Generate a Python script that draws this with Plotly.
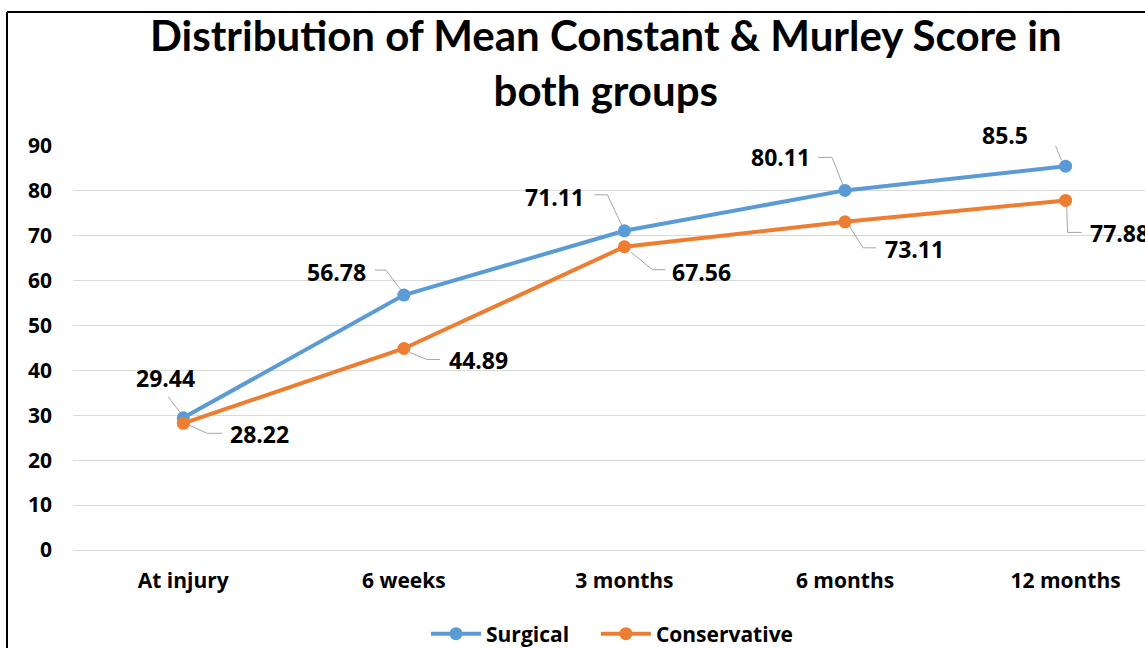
import plotly.graph_objects as go

categories = ["At injury", "6 weeks", "3 months", "6 months", "12 months"]
surgical = [29.44, 56.78, 71.11, 80.11, 85.5]
conservative = [28.22, 44.89, 67.56, 73.11, 77.88]
y_ticks = [0, 10, 20, 30, 40, 50, 60, 70, 80, 90]

BLUE = "#5B9BD5"
ORANGE = "#ED7D31"
GRID = "#D9D9D9"
LEADER = "#A6A6A6"
FONT = "Open Sans"

W, H = 1145, 648
ML, MR, MT, MB = 73, 0, 146, 98
XR = [-0.5, 4.36]
YR = [0, 90]
pw = (W - ML - MR) / (XR[1] - XR[0])
ph = (H - MT - MB) / (YR[1] - YR[0])

def px_x(p):
    return (p - ML) / (W - ML - MR)

def px_y(p):
    return (H - MB - p) / (H - MT - MB)

# label anchors (px, screen: +right, +down): surgical right edge, conservative left edge
surg_lab = [(14, -40), (-36, -23), (-38, -34), (-33, -33), (-36, -31)]
surg_lead = [
    [(-15, -21), (-3, -5)],
    [(-29, -25), (-18, -25), (-2, -4)],
    [(-30, -36), (-17, -36), (-2, -4)],
    [(-27, -33), (-13, -33), (-2, -5)],
    [(-27, -32), (-15, -32), (-4, -6)],
]
cons_lab = [(45, 11), (43, 12), (46, 25), (38, 27), (22, 33)]
cons_lead = [
    [(4, 1), (24, 10), (39, 10)],
    [(6, 4), (23, 11), (36, 11)],
    [(6, 5), (28, 23), (41, 23)],
    [(3, 2), (18, 26), (31, 26)],
    [(1, 4), (2, 32), (16, 32)],
]

fig = go.Figure()

def add_leaders(vals, leads):
    for i, (v, pts) in enumerate(zip(vals, leads)):
        fig.add_trace(go.Scatter(
            x=[i + dx / pw for dx, dy in pts],
            y=[v - dy / ph for dx, dy in pts],
            mode="lines", line=dict(color=LEADER, width=1),
            hoverinfo="skip", showlegend=False))

add_leaders(surgical, surg_lead)
add_leaders(conservative, cons_lead)

xs = list(range(len(categories)))
fig.add_trace(go.Scatter(x=xs, y=surgical, name="<b>Surgical</b>&nbsp;&nbsp;&nbsp;&nbsp;",
                         mode="lines+markers",
                         line=dict(color=BLUE, width=4),
                         marker=dict(size=13, color=BLUE)))
fig.add_trace(go.Scatter(x=xs, y=conservative, name="<b>Conservative</b>", mode="lines+markers",
                         line=dict(color=ORANGE, width=4),
                         marker=dict(size=13, color=ORANGE)))

for vals, offs, anchor in ((surgical, surg_lab, "right"), (conservative, cons_lab, "left")):
    for i, (v, (dx, dy)) in enumerate(zip(vals, offs)):
        fig.add_annotation(x=i, y=v, text=f"<b>{v:g}</b>", showarrow=False,
                           xanchor=anchor, yanchor="middle",
                           xshift=dx, yshift=-dy,
                           font=dict(family=FONT, size=23, color="#000000"))

# chart title
fig.add_annotation(xref="paper", yref="paper", x=px_x(606), y=px_y(8),
                   xanchor="center", yanchor="top", showarrow=False,
                   text="<b>Distribution of Mean Constant & Murley Score in<br>both groups</b>",
                   font=dict(family="Lato", size=42, color="#000000"))

# outer border (cropped chart frame)
bx = px_x(7)
by = px_y(12)
fig.add_shape(type="line", xref="paper", yref="paper", x0=bx, x1=bx, y0=-0.4, y1=by,
              line=dict(color="#000000", width=2))
fig.add_shape(type="line", xref="paper", yref="paper", x0=bx, x1=1.05, y0=by, y1=by,
              line=dict(color="#000000", width=2))

fig.update_layout(
    width=W, height=H,
    margin=dict(l=ML, r=MR, t=MT, b=MB, autoexpand=False),
    paper_bgcolor="#FFFFFF", plot_bgcolor="#FFFFFF",
    xaxis=dict(range=XR, tickvals=xs, ticktext=[f"<b>{c}</b>" for c in categories],
               showgrid=False, zeroline=False, showline=False, ticks="",
               automargin=False,
               tickfont=dict(family=FONT, size=21, color="#000000"),
               ticklabelstandoff=16),
    yaxis=dict(range=YR, tickvals=y_ticks, ticktext=[f"<b>{t}</b>" for t in y_ticks],
               showgrid=True, gridcolor=GRID, gridwidth=1,
               zeroline=True, zerolinecolor=GRID, zerolinewidth=1,
               showline=False, ticks="", automargin=False,
               tickfont=dict(family=FONT, size=21, color="#000000"),
               ticklabelstandoff=20),
    legend=dict(orientation="h", x=px_x(426), xanchor="left", y=px_y(634), yanchor="middle",
                font=dict(family=FONT, size=21, color="#000000"), itemwidth=50),
    showlegend=True,
)

fig.write_html("out.html", config={"displayModeBar": False},
               post_script="document.body.style.margin='0';document.body.style.overflow='hidden';")
